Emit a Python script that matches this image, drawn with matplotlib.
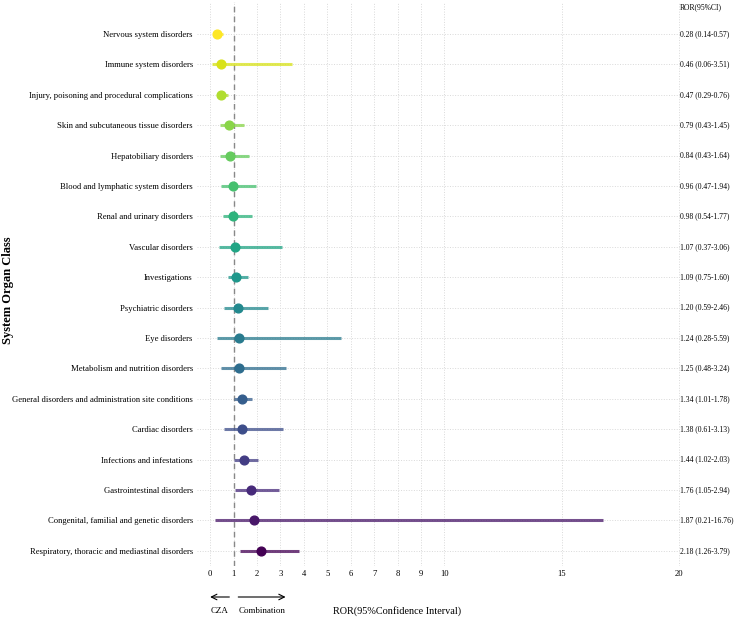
import matplotlib
matplotlib.use("Agg")
import matplotlib.pyplot as plt
from matplotlib.transforms import blended_transform_factory
import numpy as np

categories = [
    "Nervous system disorders",
    "Immune system disorders",
    "Injury, poisoning and procedural complications",
    "Skin and subcutaneous tissue disorders",
    "Hepatobiliary disorders",
    "Blood and lymphatic system disorders",
    "Renal and urinary disorders",
    "Vascular disorders",
    "Investigations",
    "Psychiatric disorders",
    "Eye disorders",
    "Metabolism and nutrition disorders",
    "General disorders and administration site conditions",
    "Cardiac disorders",
    "Infections and infestations",
    "Gastrointestinal disorders",
    "Congenital, familial and genetic disorders",
    "Respiratory, thoracic and mediastinal disorders",
]
ror = [0.28, 0.46, 0.47, 0.79, 0.84, 0.96, 0.98, 1.07, 1.09, 1.20, 1.24, 1.25, 1.34, 1.38, 1.44, 1.76, 1.87, 2.18]
lower = [0.14, 0.06, 0.29, 0.43, 0.43, 0.47, 0.54, 0.37, 0.75, 0.59, 0.28, 0.48, 1.01, 0.61, 1.02, 1.05, 0.21, 1.26]
upper = [0.57, 3.51, 0.76, 1.45, 1.64, 1.94, 1.77, 3.06, 1.60, 2.46, 5.59, 3.24, 1.78, 3.13, 2.03, 2.94, 16.76, 3.79]
labels_ci = ["0.28 (0.14-0.57)", "0.46 (0.06-3.51)", "0.47 (0.29-0.76)", "0.79 (0.43-1.45)",
             "0.84 (0.43-1.64)", "0.96 (0.47-1.94)", "0.98 (0.54-1.77)", "1.07 (0.37-3.06)",
             "1.09 (0.75-1.60)", "1.20 (0.59-2.46)", "1.24 (0.28-5.59)", "1.25 (0.48-3.24)",
             "1.34 (1.01-1.78)", "1.38 (0.61-3.13)", "1.44 (1.02-2.03)", "1.76 (1.05-2.94)",
             "1.87 (0.21-16.76)", "2.18 (1.26-3.79)"]
xticks = [0, 1, 2, 3, 4, 5, 6, 7, 8, 9, 10, 15, 20]

plt.rcParams['font.family'] = ['Liberation Serif', 'DejaVu Serif']

fig = plt.figure(figsize=(7.34, 6.18), dpi=100)
W, H = 734, 618
ax = fig.add_axes([197 / W, 1 - 566 / H, (680 - 197) / W, (566 - 2) / H])

n = len(categories)
ypos = np.arange(n)[::-1]
cmap = plt.get_cmap('viridis')
colors = [cmap(1 - i / (n - 1)) for i in range(n)]

for spine in ax.spines.values():
    spine.set_visible(False)

ax.set_xlim(-0.56, 20.05)
ax.set_ylim(-0.5, n - 1 + 1.05)
ax.set_xticks(xticks)
ax.set_xticklabels([str(t) for t in xticks], fontsize=6.2)
ax.set_yticks(ypos)
ax.set_yticklabels(categories, fontsize=6.2)
ax.tick_params(length=0, pad=3)
ax.grid(True, color='#d9d9d9', linestyle=':', linewidth=0.7)
ax.set_axisbelow(True)

ax.axvline(1, color='#888888', linestyle=(0, (4, 3)), linewidth=1.0, zorder=1)

for i in range(n):
    ax.plot([lower[i], upper[i]], [ypos[i], ypos[i]], color=colors[i], alpha=0.75,
            linewidth=2.2, solid_capstyle='butt', zorder=2)
    ax.plot(ror[i], ypos[i], 'o', color=colors[i], markersize=6.3, zorder=3)
    ax.text(20.05, ypos[i], labels_ci[i], fontsize=5.5, va='center', ha='left',
            clip_on=False)

trans = blended_transform_factory(ax.transData, fig.transFigure)
ax.text(20.05, 1 - 7 / H, "ROR(95%CI)", fontsize=5.5, va='center', ha='left',
        transform=trans)

ya = 1 - 597 / H
ax.annotate("", xy=(0.0, ya), xytext=(0.82, ya), xycoords=trans, textcoords=trans,
            arrowprops=dict(arrowstyle='->', color='black', lw=0.8, shrinkA=0, shrinkB=0),
            annotation_clip=False)
ax.annotate("", xy=(3.22, ya), xytext=(1.2, ya), xycoords=trans, textcoords=trans,
            arrowprops=dict(arrowstyle='->', color='black', lw=0.8, shrinkA=0, shrinkB=0),
            annotation_clip=False)
yt = 1 - 611 / H
ax.text(0.42, yt, "CZA", fontsize=6.5, ha='center', va='center', transform=trans)
ax.text(2.2, yt, "Combination", fontsize=6.5, ha='center', va='center', transform=trans)
ax.text(7.98, yt, "ROR(95%Confidence Interval)", fontsize=7.4, ha='center', va='center',
        transform=trans)

fig.text(8 / W, 1 - 290 / H, "System Organ Class", rotation=90, fontsize=9,
         fontweight='bold', ha='center', va='center')

fig.savefig("out.png", dpi=100)
